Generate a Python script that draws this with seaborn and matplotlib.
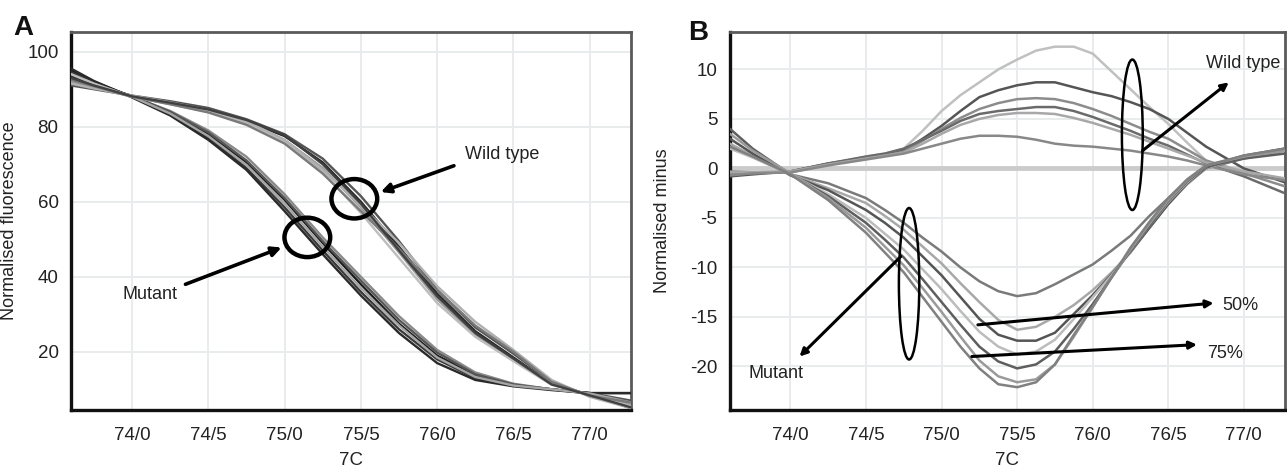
import matplotlib
matplotlib.use("Agg")
import matplotlib.pyplot as plt
from matplotlib.patches import Ellipse
import seaborn as sns
import pandas as pd

# temperature grid the panel A curves were read at
temp = [73.6, 73.75, 74.0, 74.25, 74.5, 74.75, 75.0, 75.25, 75.5, 75.75,
        76.0, 76.25, 76.5, 76.75, 77.0, 77.27]
# panel B was read on a finer grid through the bump / dip
temp_b = [73.6, 73.75, 74.0, 74.25, 74.5, 74.625, 74.75, 74.875, 75.0, 75.125,
          75.25, 75.375, 75.5, 75.625, 75.75, 75.875, 76.0, 76.125, 76.25, 76.375,
          76.5, 76.625, 76.75, 77.0, 77.27]

# panel A - normalised fluorescence
mut_a1 = [95.0, 92.0, 88.0, 83.8, 78.0, 70.5, 60.5, 49.0, 38.0, 27.5, 19.0, 13.8, 11.2, 10.0, 9.0, 6.0]
mut_a2 = [94.5, 91.8, 88.0, 83.2, 77.0, 69.0, 58.5, 47.0, 36.0, 26.0, 18.0, 13.0, 11.0, 10.0, 9.0, 9.0]
mut_a3 = [94.0, 91.5, 88.0, 84.2, 79.0, 72.0, 62.0, 50.5, 40.0, 29.5, 20.5, 14.5, 11.5, 10.0, 8.8, 5.5]
mut_a4 = [93.5, 91.3, 88.2, 84.0, 78.5, 71.0, 61.0, 49.5, 39.0, 28.5, 19.8, 14.0, 11.3, 10.0, 9.0, 7.0]
mut_a5 = [95.5, 92.2, 87.8, 83.0, 76.5, 68.5, 57.5, 46.0, 35.0, 25.0, 17.0, 12.5, 10.8, 9.8, 9.0, 9.0]
mut_a6 = [92.0, 90.8, 88.0, 83.5, 77.5, 69.8, 59.5, 48.0, 37.0, 27.0, 18.5, 13.3, 11.0, 10.0, 8.9, 6.5]
wt_a1 = [93.5, 91.2, 88.2, 86.5, 84.5, 81.5, 77.5, 70.5, 60.0, 48.0, 35.5, 25.5, 18.5, 11.5, 8.5, 5.0]
wt_a2 = [91.0, 90.0, 88.3, 86.8, 85.0, 82.0, 78.0, 71.5, 61.5, 49.5, 36.5, 26.5, 19.5, 12.0, 8.2, 5.5]
wt_a3 = [92.0, 90.5, 88.0, 86.0, 84.0, 81.0, 76.5, 69.0, 58.5, 46.5, 34.0, 24.5, 18.0, 11.5, 8.5, 6.0]
wt_a4 = [94.0, 91.5, 88.0, 86.3, 84.2, 81.2, 76.0, 68.0, 57.0, 45.0, 33.0, 24.0, 17.5, 11.2, 8.5, 5.5]
wt_a5 = [91.5, 90.2, 88.3, 86.5, 84.5, 81.5, 76.5, 68.5, 59.0, 49.0, 37.5, 28.0, 20.5, 12.5, 8.0, 5.0]
wt_a6 = [92.5, 90.8, 88.0, 86.0, 83.8, 80.5, 75.5, 67.5, 57.5, 47.5, 36.5, 27.0, 20.0, 12.0, 8.3, 6.5]
wt_a7 = [93.0, 91.0, 88.1, 86.4, 84.6, 81.8, 77.8, 70.0, 59.5, 47.0, 34.8, 25.0, 18.2, 11.3, 8.4, 5.2]

# panel B - difference plot (normalised minus)
wt_b1 = [-0.5, -0.4, -0.3, 0.4, 1.2, 1.5, 2.0, 3.8, 5.8, 7.4, 8.7, 10.0, 11.0, 11.9, 12.3, 12.3,
         11.6, 9.8, 8.0, 6.2, 4.5, 2.6, 0.8, -0.3, -1.2]
wt_b2 = [-0.8, -0.6, -0.3, 0.5, 1.1, 1.4, 1.8, 3.0, 4.3, 5.8, 7.2, 7.9, 8.4, 8.7, 8.7, 8.2,
         7.7, 7.3, 6.7, 6.0, 5.0, 3.6, 2.2, 0.0, -1.4]
wt_b3 = [-0.3, -0.4, -0.4, 0.4, 1.0, 1.3, 1.7, 2.8, 4.0, 5.1, 6.0, 6.6, 7.0, 7.1, 7.0, 6.6,
         6.0, 5.3, 4.5, 3.7, 3.0, 1.9, 0.8, -0.5, -1.8]
wt_b4 = [-0.6, -0.5, -0.3, 0.5, 1.2, 1.5, 2.0, 2.9, 3.8, 4.8, 5.5, 5.8, 6.0, 6.2, 6.2, 5.8,
         5.2, 4.5, 3.8, 3.0, 2.3, 1.4, 0.5, -0.8, -2.5]
wt_b5 = [-0.4, -0.4, -0.3, 0.4, 1.0, 1.3, 1.6, 2.5, 3.5, 4.4, 5.0, 5.4, 5.6, 5.6, 5.5, 5.1,
         4.6, 4.0, 3.4, 2.7, 2.0, 1.3, 0.6, -0.3, -1.0]
wt_b6 = [-0.7, -0.5, -0.4, 0.3, 0.9, 1.2, 1.5, 2.0, 2.5, 3.0, 3.3, 3.3, 3.2, 2.9, 2.5, 2.3,
         2.2, 2.0, 1.8, 1.5, 1.2, 0.8, 0.3, -0.6, -1.2]
mut_b1 = [2.2, 1.3, -0.6, -1.5, -3.0, -4.2, -5.5, -7.0, -8.4, -10.0, -11.4, -12.4, -12.9, -12.6,
          -11.7, -10.7, -9.7, -8.3, -6.8, -4.8, -3.0, -1.4, 0.0, 1.0, 1.8]
mut_b2 = [2.5, 1.3, -0.6, -2.0, -3.5, -4.8, -6.2, -7.9, -9.6, -11.6, -13.5, -15.3, -16.3, -16.0,
          -15.0, -13.8, -12.3, -10.5, -8.5, -6.0, -3.6, -1.6, 0.0, 1.2, 2.0]
mut_b3 = [3.0, 1.5, -0.7, -2.2, -4.2, -5.5, -7.0, -8.9, -10.8, -13.0, -15.2, -16.8, -17.4, -17.4,
          -16.6, -14.7, -12.8, -10.7, -8.4, -6.0, -3.6, -1.5, 0.1, 1.3, 2.0]
mut_b4 = [2.0, 1.1, -0.6, -2.6, -5.0, -6.6, -8.2, -10.2, -12.2, -14.4, -16.5, -18.0, -18.8, -18.5,
          -17.3, -15.2, -13.0, -10.8, -8.3, -5.8, -3.4, -1.4, 0.2, 1.2, 1.8]
mut_b5 = [4.0, 2.0, -0.6, -2.8, -5.5, -7.2, -9.0, -11.2, -13.5, -15.8, -18.0, -19.5, -20.2, -19.8,
          -18.5, -16.2, -13.7, -11.0, -8.3, -5.8, -3.3, -1.3, 0.2, 1.0, 1.5]
mut_b6 = [3.5, 1.8, -0.5, -3.0, -6.0, -7.9, -9.8, -12.1, -14.5, -17.0, -19.4, -21.0, -21.6, -21.3,
          -19.8, -17.0, -14.0, -11.0, -8.2, -5.6, -3.2, -1.2, 0.3, 1.2, 1.8]
mut_b7 = [2.2, 1.2, -0.6, -3.2, -6.5, -8.5, -10.5, -13.0, -15.5, -18.0, -20.2, -21.8, -22.1, -21.6,
          -19.8, -16.8, -14.0, -11.0, -8.0, -5.4, -3.0, -1.1, 0.3, 1.3, 2.0]

x_ticks = [74.0, 74.5, 75.0, 75.5, 76.0, 76.5, 77.0]
x_ticklabels = ["74/0", "74/5", "75/0", "75/5", "76/0", "76/5", "77/0"]
a_yticks = [20, 40, 60, 80, 100]
b_yticks = [-20, -15, -10, -5, 0, 5, 10]

curves_a = {"mut_a1": mut_a1, "mut_a2": mut_a2, "mut_a3": mut_a3, "mut_a4": mut_a4,
            "mut_a5": mut_a5, "mut_a6": mut_a6, "wt_a1": wt_a1, "wt_a2": wt_a2,
            "wt_a3": wt_a3, "wt_a4": wt_a4, "wt_a5": wt_a5, "wt_a6": wt_a6, "wt_a7": wt_a7}
colors_a = {"mut_a1": "#1c1c1c", "mut_a2": "#3a3a3a", "mut_a3": "#8a8a8a", "mut_a4": "#555555",
            "mut_a5": "#2a2a2a", "mut_a6": "#a5a5a5", "wt_a1": "#2a2a2a", "wt_a2": "#555555",
            "wt_a3": "#9a9a9a", "wt_a4": "#bdbdbd", "wt_a5": "#b0b0b0", "wt_a6": "#7a7a7a",
            "wt_a7": "#404040"}
curves_b = {"wt_b1": wt_b1, "wt_b2": wt_b2, "wt_b3": wt_b3, "wt_b4": wt_b4, "wt_b5": wt_b5,
            "wt_b6": wt_b6, "mut_b1": mut_b1, "mut_b2": mut_b2, "mut_b3": mut_b3,
            "mut_b4": mut_b4, "mut_b5": mut_b5, "mut_b6": mut_b6, "mut_b7": mut_b7}
colors_b = {"wt_b1": "#c0c0c0", "wt_b2": "#555555", "wt_b3": "#8c8c8c", "wt_b4": "#6a6a6a",
            "wt_b5": "#a8a8a8", "wt_b6": "#888888", "mut_b1": "#7a7a7a", "mut_b2": "#a8a8a8",
            "mut_b3": "#555555", "mut_b4": "#bcbcbc", "mut_b5": "#5e5e5e", "mut_b6": "#9a9a9a",
            "mut_b7": "#808080"}


def long_form(curves, grid):
    rows = []
    for name, vals in curves.items():
        for t, v in zip(grid, vals):
            rows.append({"temp": t, "value": v, "curve": name})
    return pd.DataFrame(rows)


sns.set_style("white")
plt.rcParams["font.family"] = ["Liberation Sans", "DejaVu Sans"]
plt.rcParams["axes.unicode_minus"] = False

fig = plt.figure(figsize=(12.87, 4.68), dpi=100)
ax_a = fig.add_axes([0.0552, 0.124, 0.435, 0.808])
ax_b = fig.add_axes([0.5672, 0.124, 0.431, 0.808])


def style_axes(ax):
    ax.grid(True, color="#e8ecec", linewidth=1.4, zorder=0)
    ax.set_axisbelow(True)
    for side in ["left", "bottom"]:
        ax.spines[side].set_color("#111111")
        ax.spines[side].set_linewidth(2.4)
    for side in ["top", "right"]:
        ax.spines[side].set_color("#5a5a5a")
        ax.spines[side].set_linewidth(2.0)
    ax.set_xticks(x_ticks)
    ax.set_xticklabels(x_ticklabels)
    ax.tick_params(axis="both", length=4, color="#bbbbbb", labelsize=13.5,
                   labelcolor="#222222", pad=5, direction="out")
    ax.tick_params(axis="x", pad=8)
    ax.set_xlim(73.6, 77.27)
    ax.set_xlabel("7C", fontsize=13.5, color="#222222")
    ax.xaxis.set_label_coords(0.5, -0.112)


# ---- panel A
sns.lineplot(data=long_form(curves_a, temp), x="temp", y="value", hue="curve",
             palette=colors_a, estimator=None, legend=False, linewidth=1.7,
             ax=ax_a, zorder=3)
style_axes(ax_a)
ax_a.set_ylim(4.5, 105.3)
ax_a.set_yticks(a_yticks)
ax_a.set_ylabel("Normalised fluorescence", fontsize=13, color="#222222")
ax_a.yaxis.set_label_coords(-0.095, 0.5)

ax_a.add_patch(Ellipse((75.457, 60.8), 0.30, 10.5, fill=False, lw=3.2,
                       edgecolor="black", zorder=5))
ax_a.add_patch(Ellipse((75.149, 50.5), 0.30, 10.5, fill=False, lw=3.2,
                       edgecolor="black", zorder=5))
arrow = dict(arrowstyle="-|>", color="black", lw=2.6, mutation_scale=14,
             shrinkA=0, shrinkB=0)
ax_a.annotate("", xy=(75.63, 62.6), xytext=(76.11, 69.6), arrowprops=arrow, zorder=6)
ax_a.annotate("", xy=(74.98, 47.8), xytext=(74.35, 38.0), arrowprops=arrow, zorder=6)
ax_a.text(76.18, 72.7, "Wild type", fontsize=13, va="center", ha="left", color="#222222")
ax_a.text(74.12, 35.3, "Mutant", fontsize=13, va="center", ha="center", color="#222222")
fig.text(0.010, 0.925, "A", fontsize=20, fontweight="bold", color="#111111")

# ---- panel B
ax_b.axhline(0, color="#cbcbcb", lw=3.5, zorder=2)
sns.lineplot(data=long_form(curves_b, temp_b), x="temp", y="value", hue="curve",
             palette=colors_b, estimator=None, legend=False, linewidth=1.8,
             ax=ax_b, zorder=3)
style_axes(ax_b)
ax_b.set_ylim(-24.4, 13.8)
ax_b.set_yticks(b_yticks)
ax_b.set_ylabel("Normalised minus", fontsize=13, color="#222222")
ax_b.yaxis.set_label_coords(-0.106, 0.5)

ax_b.add_patch(Ellipse((76.262, 3.4), 0.138, 15.2, fill=False, lw=1.8,
                       edgecolor="black", zorder=5))
ax_b.add_patch(Ellipse((74.785, -11.65), 0.135, 15.3, fill=False, lw=1.8,
                       edgecolor="black", zorder=5))
arrow_b = dict(arrowstyle="-|>", color="black", lw=2.2, mutation_scale=11,
               shrinkA=0, shrinkB=0)
ax_b.annotate("", xy=(76.90, 8.7), xytext=(76.33, 1.8), arrowprops=arrow_b, zorder=6)
ax_b.annotate("", xy=(74.06, -19.0), xytext=(74.73, -8.9), arrowprops=arrow_b, zorder=6)
ax_b.annotate("", xy=(76.80, -13.6), xytext=(75.24, -15.8), arrowprops=arrow_b, zorder=6)
ax_b.annotate("", xy=(76.69, -17.8), xytext=(75.20, -19.0), arrowprops=arrow_b, zorder=6)
ax_b.text(76.75, 10.6, "Wild type", fontsize=13, va="center", ha="left", color="#222222")
ax_b.text(73.72, -20.7, "Mutant", fontsize=13, va="center", ha="left", color="#222222")
ax_b.text(76.86, -13.8, "50%", fontsize=13, va="center", ha="left", color="#222222")
ax_b.text(76.76, -18.7, "75%", fontsize=13, va="center", ha="left", color="#222222")
fig.text(0.5345, 0.915, "B", fontsize=20, fontweight="bold", color="#111111")

fig.savefig("out.png", dpi=100)
